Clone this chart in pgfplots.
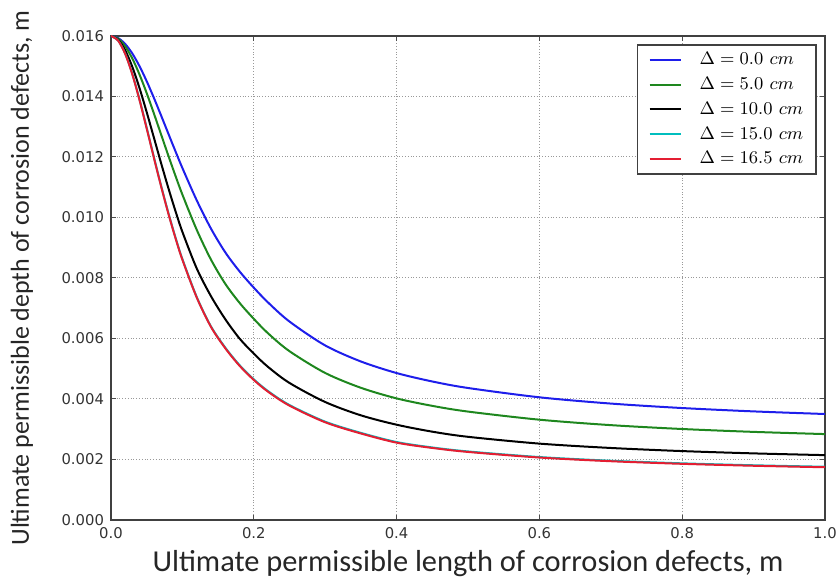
\documentclass[border=0pt]{standalone}
\usepackage[no-math]{fontspec}
\usepackage{pgfplots}
\pgfplotsset{compat=1.18}
\newfontfamily\dejavu{DejaVu Sans}
\newfontfamily\carlito{Carlito}
\definecolor{cblue}{RGB}{30,30,235}
\definecolor{cgreen}{RGB}{30,135,30}
\definecolor{ccyan}{RGB}{0,190,190}
\definecolor{cred}{RGB}{228,30,50}
\begin{document}
\begin{tikzpicture}
\useasboundingbox (-55.5pt,-32pt) rectangle (363pt,260pt);
\begin{axis}[
  at={(0,0)}, anchor=south west,
  scale only axis, width=357pt, height=242pt,
  xmin=0, xmax=1, ymin=0, ymax=0.016,
  xtick={0,0.2,0.4,0.6,0.8,1},
  xticklabels={0.0,0.2,0.4,0.6,0.8,1.0},
  ytick={0,0.002,0.004,0.006,0.008,0.010,0.012,0.014,0.016},
  yticklabels={0.000,0.002,0.004,0.006,0.008,0.010,0.012,0.014,0.016},
  scaled y ticks=false,
  ticklabel style={font=\dejavu\fontsize{7.4}{8}\selectfont, text=black!80},
  tick align=inside, tick pos=both, major tick length=2.5pt,
  tick style={black!70, line width=0.5pt},
  grid=major,
  major grid style={densely dotted, black!40, line width=0.5pt},
  axis line style={black!75, line width=0.7pt},
  xlabel={Ultimate permissible length of corrosion defects, m},
  ylabel={Ultimate permissible depth of corrosion defects, m},
  xlabel style={font=\carlito\fontsize{15.2}{18}\selectfont, text=black!85, at={(axis description cs:0.5,-0.1074)}, anchor=base},
  ylabel style={font=\carlito\fontsize{13}{15}\selectfont, text=black!85, at={(axis description cs:-0.1246,0.5)}, anchor=center},
  legend style={at={(rel axis cs:1,1)}, anchor=north east, xshift=-4pt, yshift=-4pt,
    draw=black!75, line width=0.8pt, inner xsep=5.5pt, inner ysep=2pt,
    font=\fontsize{9.3}{10}\selectfont, row sep=1.4pt,
    nodes={inner sep=1pt, text height=7pt, text depth=2pt, anchor=west},
    /tikz/every odd column/.append style={column sep=8pt}},
  legend cell align=left,
  legend image code/.code={\draw[#1, line width=1pt] (0pt,0pt) -- (15.5pt,0pt);},
]
\addplot[cblue, line width=1pt, smooth] coordinates {
(0,0.016)(0.01,0.015932)(0.02,0.015733)(0.03,0.015416)(0.04,0.014999)(0.05,0.014505)(0.06,0.013959)(0.07,0.013381)(0.08,0.012791)(0.09,0.012206)(0.10,0.011635)(0.12,0.010572)(0.14,0.009634)(0.16,0.008850)(0.18,0.008220)(0.20,0.007680)(0.22,0.007190)(0.25,0.006560)(0.30,0.005770)(0.35,0.005240)(0.40,0.004858)(0.45,0.004579)(0.50,0.004364)(0.60,0.004056)(0.70,0.003849)(0.80,0.003701)(0.90,0.003590)(1.00,0.003504)};
\addlegendentry{$\Delta = 0.0\ cm$}
\addplot[cgreen, line width=1pt, smooth] coordinates {
(0,0.016)(0.01,0.015912)(0.02,0.015655)(0.03,0.015249)(0.04,0.014723)(0.05,0.014111)(0.06,0.013445)(0.07,0.012756)(0.08,0.012067)(0.09,0.011397)(0.10,0.010757)(0.12,0.009597)(0.14,0.008609)(0.16,0.007810)(0.18,0.007180)(0.20,0.006650)(0.22,0.006170)(0.25,0.005580)(0.30,0.004860)(0.35,0.004370)(0.40,0.004020)(0.45,0.003773)(0.50,0.003584)(0.60,0.003316)(0.70,0.003136)(0.80,0.003008)(0.90,0.002913)(1.00,0.002840)};
\addlegendentry{$\Delta = 5.0\ cm$}
\addplot[black, line width=1pt, smooth] coordinates {
(0,0.016)(0.01,0.015878)(0.02,0.015523)(0.03,0.014971)(0.04,0.014274)(0.05,0.013482)(0.06,0.012648)(0.07,0.011811)(0.08,0.011000)(0.09,0.010234)(0.10,0.009525)(0.12,0.008320)(0.14,0.007400)(0.16,0.006640)(0.18,0.006000)(0.20,0.005500)(0.22,0.005060)(0.25,0.004530)(0.30,0.003900)(0.35,0.003460)(0.40,0.003150)(0.45,0.002920)(0.50,0.002750)(0.60,0.002525)(0.70,0.002381)(0.80,0.002278)(0.90,0.002202)(1.00,0.002144)};
\addlegendentry{$\Delta = 10.0\ cm$}
\addplot[ccyan, line width=1pt, smooth] coordinates {
(0,0.016)(0.01,0.015850)(0.02,0.015410)(0.03,0.014735)(0.04,0.013895)(0.05,0.012963)(0.06,0.012005)(0.07,0.011067)(0.08,0.010181)(0.09,0.009365)(0.10,0.008625)(0.12,0.007375)(0.14,0.006400)(0.16,0.005700)(0.18,0.005120)(0.20,0.004650)(0.22,0.004260)(0.25,0.003800)(0.30,0.003250)(0.35,0.002880)(0.40,0.002577)(0.45,0.002398)(0.50,0.002266)(0.60,0.002081)(0.70,0.001959)(0.80,0.001873)(0.90,0.001809)(1.00,0.001760)};
\addlegendentry{$\Delta = 15.0\ cm$}
\addplot[cred, line width=1pt, smooth] coordinates {
(0,0.016)(0.01,0.015846)(0.02,0.015402)(0.03,0.014721)(0.04,0.013877)(0.05,0.012943)(0.06,0.011984)(0.07,0.011045)(0.08,0.010159)(0.09,0.009343)(0.10,0.008604)(0.12,0.007360)(0.14,0.006385)(0.16,0.005680)(0.18,0.005100)(0.20,0.004630)(0.22,0.004240)(0.25,0.003780)(0.30,0.003230)(0.35,0.002860)(0.40,0.002557)(0.45,0.002382)(0.50,0.002250)(0.60,0.002065)(0.70,0.001943)(0.80,0.001857)(0.90,0.001793)(1.00,0.001744)};
\addlegendentry{$\Delta = 16.5\ cm$}
\end{axis}
\end{tikzpicture}
\end{document}
